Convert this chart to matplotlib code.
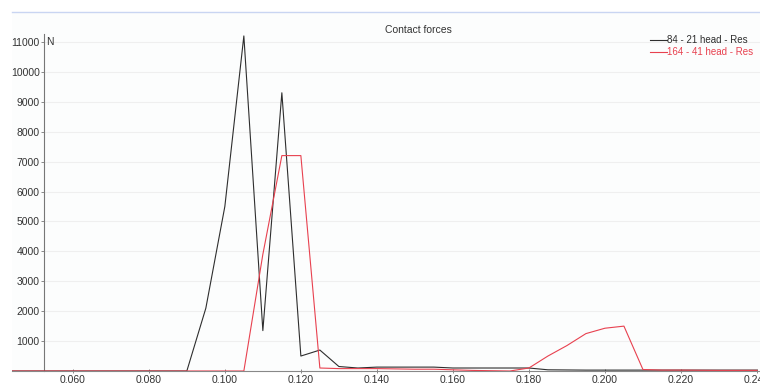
import matplotlib

matplotlib.use("Agg")
import matplotlib.pyplot as plt
from matplotlib.ticker import FixedLocator, FormatStrFormatter


plt.rcParams.update(
    {
        "font.family": ["Liberation Sans", "DejaVu Sans"],
        "font.size": 7.5,
    }
)

# time in seconds, sampled every 5 ms
time = [
    0.044, 0.050, 0.055, 0.060, 0.065, 0.070, 0.075, 0.080, 0.085, 0.090,
    0.095, 0.100, 0.105, 0.110, 0.115, 0.120, 0.125, 0.130, 0.135, 0.140,
    0.145, 0.150, 0.155, 0.160, 0.165, 0.170, 0.175, 0.180, 0.185, 0.190,
    0.195, 0.200, 0.205, 0.210, 0.215, 0.220, 0.225, 0.230, 0.235, 0.240,
]

# contact force [N]
force_84_21 = [
    0, 0, 0, 0, 0, 0, 0, 0, 0, 0,
    2100, 5500, 11200, 1350, 9300, 500, 700, 150, 100, 130,
    130, 130, 130, 100, 100, 100, 100, 100, 40, 35,
    30, 30, 30, 30, 30, 30, 30, 30, 30, 30,
]
force_164_41 = [
    0, 0, 0, 0, 0, 0, 0, 0, 0, 0,
    0, 0, 0, 3900, 7200, 7200, 100, 80, 80, 80,
    70, 60, 60, 40, 20, 10, 0, 100, 500, 850,
    1250, 1430, 1500, 50, 30, 30, 25, 20, 20, 20,
]

labels = ["84 - 21 head - Res", "164 - 41 head - Res"]
colors = ["#2e2e2e", "#e8414f"]

y_ticks = [1000, 2000, 3000, 4000, 5000, 6000, 7000, 8000, 9000, 10000, 11000]
x_ticks = [0.060, 0.080, 0.100, 0.120, 0.140, 0.160, 0.180, 0.200, 0.220, 0.240]

spine_x = 0.0524
text_color = "#333333"


def main():
    fig = plt.figure(figsize=(7.6, 3.89), dpi=100)
    ax = fig.add_axes([12 / 760, 18 / 389, 748 / 760, 359 / 389])
    ax.set_facecolor("#fcfdfd")

    ax.set_xlim(0.044, 0.2408)
    ax.set_ylim(0, 12000)

    # faint horizontal grid from the y axis to the right
    ax.hlines(y_ticks, spine_x, 0.2408, color="#efefef", lw=0.8, zorder=0)

    ax.plot(time, force_84_21, color=colors[0], lw=0.8, label=labels[0], zorder=3)
    ax.plot(time, force_164_41, color=colors[1], lw=0.8, label=labels[1], zorder=4)

    ax.spines["right"].set_visible(False)
    ax.spines["top"].set_color("#c9d5f2")
    ax.spines["top"].set_linewidth(1.0)
    ax.spines["left"].set_position(("data", spine_x))
    ax.spines["left"].set_bounds(0, 11250)
    ax.spines["left"].set_color("#777777")
    ax.spines["left"].set_linewidth(0.8)
    ax.spines["bottom"].set_color("#888888")
    ax.spines["bottom"].set_linewidth(0.8)

    ax.yaxis.set_major_locator(FixedLocator(y_ticks))
    ax.xaxis.set_major_locator(FixedLocator(x_ticks))
    ax.xaxis.set_major_formatter(FormatStrFormatter("%.3f"))
    ax.tick_params(axis="y", direction="out", length=2.5, width=0.6, pad=0.5,
                   colors="#777777", labelcolor=text_color, labelsize=7.5)
    ax.tick_params(axis="x", direction="inout", length=3.0, width=0.6, pad=1.5,
                   colors="#777777", labelcolor=text_color, labelsize=7.5)

    ax.annotate("N", xy=(spine_x, 11000), xytext=(1.5, 0), textcoords="offset points",
                va="center", ha="left", color=text_color, fontsize=7.5)

    fig.text(418 / 760, 1 - 30 / 389, "Contact forces", ha="center", va="center",
             color=text_color, fontsize=7.5)

    leg = ax.legend(
        loc="upper left",
        bbox_to_anchor=(650 / 760, 1 - 35 / 389),
        bbox_transform=fig.transFigure,
        frameon=False,
        borderpad=0,
        borderaxespad=0,
        handlelength=1.75,
        handletextpad=0.0,
        labelspacing=0.25,
        fontsize=7,
        labelcolor="linecolor",
    )
    for line in leg.get_lines():
        line.set_linewidth(0.8)

    fig.savefig("out.png", dpi=100)
    plt.close(fig)


if __name__ == "__main__":
    main()
